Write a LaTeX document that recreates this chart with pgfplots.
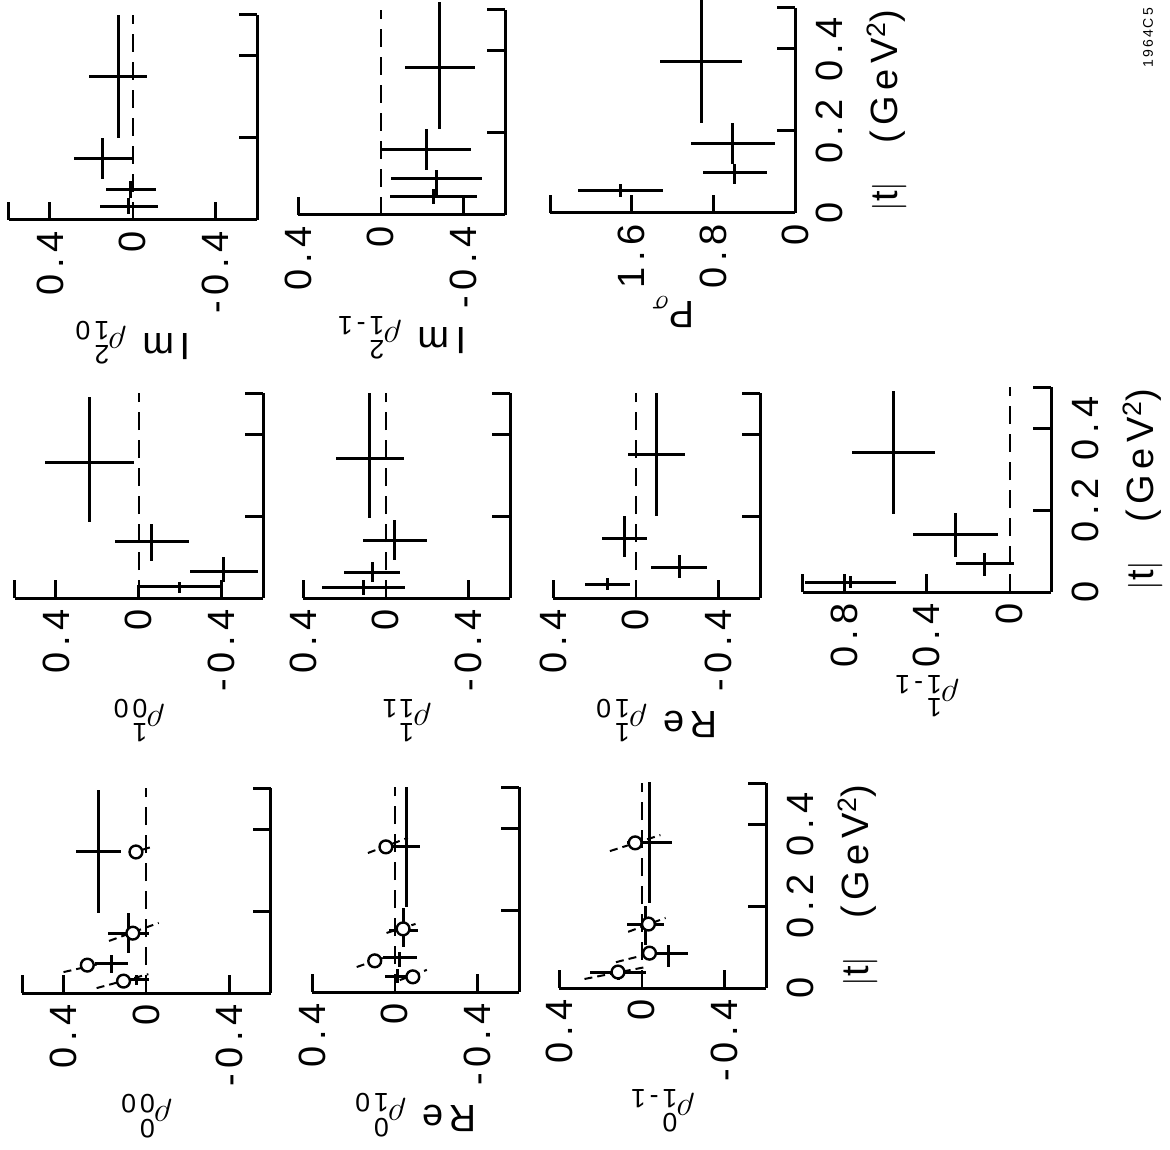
\documentclass[border=0pt]{standalone}
\usepackage{amsmath}
\usepackage{fontspec}
\setmainfont{Liberation Sans}[LetterSpace=15]
\setsansfont{Liberation Sans}
\usepackage{pgfplots}
\pgfplotsset{compat=1.18}

\newcommand\fs{\fontsize{19}{22}\selectfont}
\newcommand\s[1]{\text{#1}}

\pgfplotsset{
  panel/.style={
    x=103.5pt, y=205pt, x dir=reverse,
    ymin=0, ymax=0.5,
    axis x line*=bottom, axis y line*=right,
    axis line style={line width=1.5pt},
    tick style={line width=1.5pt, black},
    tick align=inside, major tick length=9pt,
    ytick={0.2,0.4,0.5}, yticklabels={},
    tick label style={font=\fs},
    xticklabel style={rotate=90, anchor=east},
    xticklabel shift=2pt,
    label style={font=\fs},
    xlabel style={at={(ticklabel cs:0.5,-7pt)}, rotate=180, anchor=south},
    extra x ticks={0}, extra x tick labels={0},
    extra x tick style={major tick length=0pt},
    anchor=south east, clip=false,
  },
  rho/.style={xmin=-0.6, xmax=0.6, xtick={-0.4,0.4,0.6}, xticklabels={-0.4,0.4,{}}},
  rhos/.style={xmin=-0.6, xmax=0.4, xtick={-0.4,0.4}, xticklabels={-0.4,0.4}},
  tlab/.style={
    yticklabels={0.2,0.4,{}},
    extra y ticks={0}, extra y tick labels={0},
    extra y tick style={major tick length=0pt},
    yticklabel style={rotate=90, anchor=north},
    yticklabel shift=7pt,
    ylabel={$|$t$|$\quad(GeV\textsuperscript{2})},
    ylabel style={at={(ticklabel cs:0.5,-9pt)}, anchor=north},
  },
  zero/.style={black, line width=1pt, dash pattern=on 9pt off 5pt},
  sl/.style={black, line width=1pt, dash pattern=on 4pt off 2.5pt, unbounded coords=jump},
  circ/.style={only marks, mark=*, mark size=3.2pt, mark options={fill=white, draw=black, line width=1.2pt}},
  cross/.style={draw=none, mark=none, error bars/.cd, x dir=both, x explicit,
    y dir=both, y explicit, error mark=none, error bar style={draw=black, line width=1.5pt, solid}},
}

\begin{document}
\begin{tikzpicture}

% ---- top row: Im rho^2_10, Im rho^2_1-1, P_sigma
\begin{axis}[panel, rho, at={(128.5pt,-110pt)}, xlabel={Im $\rho^{\s{2}}_{\s{10}}$}]
  \addplot[zero] coordinates {(0,0) (0,0.5)};
  \addplot[cross] coordinates {
    (0.07,0.35) +- (0.14,0.15)
    (0.145,0.15) +- (0.14,0.05)
    (0.01,0.075) += (0.12,0.02) -= (0.12,0.021)
    (0.02,0.032) += (0.14,0.022) -= (0.14,0.017)
  };
\end{axis}

\begin{axis}[panel, rhos, at={(252.5pt,-107.5pt)}, xlabel={Im $\rho^{\s{2}}_{\s{1-1}}$}]
  \addplot[zero] coordinates {(0,0) (0,0.5)};
  \addplot[cross] coordinates {
    (-0.285,0.36) += (0.17,0.16) -= (0.17,0.15)
    (-0.22,0.16) +- (0.215,0.05)
    (-0.27,0.088) += (0.22,0.022) -= (0.22,0.043)
    (-0.255,0.046) += (0.21,0.017) -= (0.21,0.019)
  };
\end{axis}

\begin{axis}[panel, tlab, x=51pt, xmin=0, xmax=2.4, xtick={0.8,1.6,2.4}, xticklabels={0.8,1.6,{}},
    at={(397.5pt,-106.5pt)}, xlabel={P$_{\sigma}$}]
  \addplot[cross] coordinates {
    (0.92,0.37) += (0.405,0.16) -= (0.405,0.15)
    (0.61,0.17) +- (0.41,0.05)
    (0.59,0.098) += (0.315,0.022) -= (0.315,0.028)
    (1.71,0.054) += (0.42,0.016) -= (0.42,0.014)
  };
\end{axis}

% ---- middle row: rho^1_00, rho^1_11, Re rho^1_10, rho^1_1-1
\begin{axis}[panel, rho, at={(131.5pt,-299pt)}, xlabel={$\rho^{\s{1}}_{\s{00}}$}]
  \addplot[zero] coordinates {(0,0) (0,0.5)};
  \addplot[black, line width=1.5pt] coordinates {(0,0) (0,0.027) (-0.4,0.027) (-0.4,0)};
  \addplot[cross] coordinates {
    (0.24,0.33) += (0.215,0.16) -= (0.215,0.145)
    (-0.063,0.137) += (0.18,0.043) -= (0.18,0.047)
    (-0.41,0.064) += (0.165,0.036) -= (0.165,0.024)
    (-0.195,0.027) += (0,0.012) -= (0,0.015)
  };
\end{axis}

\begin{axis}[panel, rhos, at={(255pt,-299pt)}, xlabel={$\rho^{\s{1}}_{\s{11}}$}]
  \addplot[zero] coordinates {(0,0) (0,0.5)};
  \addplot[cross] coordinates {
    (0.078,0.34) += (0.165,0.16) -= (0.165,0.145)
    (-0.044,0.14) += (0.155,0.05) -= (0.155,0.047)
    (0.065,0.063) += (0.135,0.025) -= (0.135,0.023)
    (0.107,0.025) += (0.2,0.019) -= (0.2,0.018)
  };
\end{axis}

\begin{axis}[panel, rhos, at={(380pt,-299pt)}, xlabel={Re $\rho^{\s{1}}_{\s{10}}$}]
  \addplot[zero] coordinates {(0,0) (0,0.5)};
  \addplot[cross] coordinates {
    (-0.10,0.35) +- (0.14,0.15)
    (0.054,0.146) += (0.107,0.054) -= (0.107,0.046)
    (-0.21,0.075) += (0.135,0.03) -= (0.135,0.025)
    (0.137,0.034) += (0.11,0.016) -= (0.11,0.014)
  };
\end{axis}

\begin{axis}[panel, tlab, xmin=-0.2, xmax=1.0, xtick={0.4,0.8,1.0}, xticklabels={0.4,0.8,{}},
    at={(525.5pt,-296pt)}, xlabel={$\rho^{\s{1}}_{\s{1-1}}$}]
  \addplot[zero] coordinates {(0,0) (0,0.5)};
  \addplot[cross] coordinates {
    (0.56,0.34) +- (0.2,0.15)
    (0.26,0.141) += (0.205,0.052) -= (0.205,0.056)
    (0.12,0.07) += (0.14,0.025) -= (0.14,0.03)
    (0.77,0.024) += (0.22,0.016) -= (0.22,0.014)
  };
\end{axis}

% ---- bottom row: rho^0_00, Re rho^0_10, rho^0_1-1
\begin{axis}[panel, rho, at={(135.25pt,-496.5pt)}, xlabel={$\rho^{\s{0}}_{\s{00}}$}]
  \addplot[zero] coordinates {(0,0) (0,0.5)};
  \addplot[sl] coordinates {(0.08,0.34) (-0.03,0.357) (nan,nan) (0.18,0.127) (-0.06,0.171)
    (nan,nan) (0.4,0.051) (0.21,0.073) (nan,nan) (0.24,0.012) (-0.01,0.046)};
  \addplot[circ] coordinates {(0.05,0.344) (0.065,0.146) (0.285,0.068) (0.11,0.029)};
  \addplot[cross] coordinates {
    (0.23,0.346) += (0.11,0.149) -= (0.11,0.151)
    (0.085,0.146) += (0.1,0.049) -= (0.1,0.048)
    (0.17,0.071) +- (0.08,0.022)
    (0.045,0.032) +- (0.06,0.012)
  };
\end{axis}

\begin{axis}[panel, rhos, at={(259.5pt,-496pt)}, xlabel={Re $\rho^{\s{0}}_{\s{10}}$}]
  \addplot[zero] coordinates {(0,0) (0,0.5)};
  \addplot[sl] coordinates {(0.13,0.339) (-0.063,0.376) (nan,nan) (0.04,0.144) (-0.1,0.166)
    (nan,nan) (0.184,0.061) (0.058,0.083) (nan,nan) (-0.024,0.029) (-0.155,0.054)};
  \addplot[circ] coordinates {(0.043,0.354) (-0.04,0.154) (0.097,0.076) (-0.087,0.037)};
  \addplot[cross] coordinates {
    (-0.055,0.356) += (0.065,0.144) -= (0.065,0.149)
    (-0.04,0.151) += (0.07,0.054) -= (0.07,0.041)
    (-0.025,0.083) += (0.08,0.015) -= (0.08,0.022)
    (-0.015,0.037) += (0.06,0.019) -= (0.06,0.015)
  };
\end{axis}

\begin{axis}[panel, rhos, tlab, at={(383pt,-494pt)}, xlabel={$\rho^{\s{0}}_{\s{1-1}}$}]
  \addplot[zero] coordinates {(0,0) (0,0.5)};
  \addplot[sl] coordinates {(0.154,0.334) (-0.09,0.373) (nan,nan) (0.066,0.137) (-0.115,0.171)
    (nan,nan) (0.125,0.063) (-0.047,0.085) (nan,nan) (0.277,0.022) (-0.017,0.051)};
  \addplot[circ] coordinates {(0.032,0.354) (-0.032,0.156) (-0.037,0.085) (0.115,0.039)};
  \addplot[cross] coordinates {
    (-0.037,0.356) += (0.11,0.146) -= (0.11,0.149)
    (-0.017,0.156) += (0.09,0.044) -= (0.09,0.051)
    (-0.13,0.083) += (0.095,0.022) -= (0.095,0.032)
    (0.115,0.039) += (0.135,0.017) -= (0.135,0.019)
  };
\end{axis}

\node[rotate=90, anchor=east, font=\fontsize{7}{8}\selectfont] at (574pt,-0.5pt) {1964C5};

\pgfresetboundingbox
\path[use as bounding box] (0,0) rectangle (585pt,-574.5pt);
\end{tikzpicture}
\end{document}
